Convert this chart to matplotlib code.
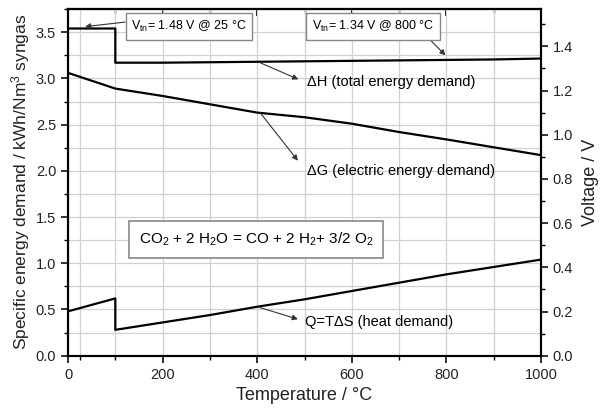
import numpy as np
import matplotlib
matplotlib.use("Agg")
import matplotlib.pyplot as plt
from matplotlib.ticker import MultipleLocator, FixedLocator

plt.rcParams["font.family"] = ["Liberation Sans", "DejaVu Sans"]
plt.rcParams["mathtext.fontset"] = "custom"
plt.rcParams["mathtext.rm"] = "Liberation Sans"
plt.rcParams["mathtext.it"] = "Liberation Sans:italic"

# temperature in degC (100 appears twice: step at water evaporation)
temp = [0, 100, 100, 200, 300, 400, 500, 600, 700, 800, 900, 1000]
dH = [3.54, 3.54, 3.17, 3.17, 3.175, 3.18, 3.185, 3.19, 3.195, 3.20, 3.205, 3.215]
dG = [3.06, 2.89, 2.89, 2.81, 2.72, 2.63, 2.58, 2.51, 2.42, 2.34, 2.255, 2.17]
Q = [0.48, 0.62, 0.28, 0.36, 0.44, 0.53, 0.61, 0.70, 0.79, 0.88, 0.96, 1.04]

# kWh/Nm3 syngas per volt (2 electrons per mole syngas)
kwh_per_volt = 2.391
e_max = 3.75

fig = plt.figure(figsize=(6.04, 4.13), dpi=100)
ax = fig.add_axes([0.1126, 0.1387, 0.7831, 0.8393])

ax.plot(temp, dH, color="black", lw=1.6)
ax.plot(temp, dG, color="black", lw=1.6)
ax.plot(temp, Q, color="black", lw=1.6)

ax.set_xlim(0, 1000)
ax.set_ylim(0, e_max)
ax.xaxis.set_major_locator(MultipleLocator(200))
ax.xaxis.set_minor_locator(FixedLocator([25, 100, 300, 500, 700, 900]))
ax.yaxis.set_major_locator(MultipleLocator(0.5))
ax.yaxis.set_minor_locator(MultipleLocator(0.25))
ax.yaxis.set_major_formatter(matplotlib.ticker.FormatStrFormatter("%.1f"))
ax.grid(True, which="both", color="#d0d0d0", lw=0.9)
ax.set_axisbelow(True)
ax.tick_params(which="major", direction="out", length=5, width=1.3, labelsize=10.5, colors="#222")
ax.tick_params(which="minor", direction="out", length=3, width=1.0)
for s in ax.spines.values():
    s.set_linewidth(1.5)

top = ax.secondary_xaxis("top")
top.xaxis.set_major_locator(MultipleLocator(200))
top.xaxis.set_minor_locator(MultipleLocator(100))
top.tick_params(which="major", direction="in", length=5, width=1.3, labeltop=False)
top.tick_params(which="minor", direction="in", length=3, width=1.0)
top.spines["top"].set_linewidth(1.5)

ax2 = ax.twinx()
ax2.set_ylim(0, e_max / kwh_per_volt)
ax2.yaxis.set_major_locator(MultipleLocator(0.2))
ax2.yaxis.set_minor_locator(MultipleLocator(0.1))
ax2.yaxis.set_major_formatter(matplotlib.ticker.FormatStrFormatter("%.1f"))
ax2.tick_params(which="major", direction="out", length=5, width=1.3, labelsize=10.5, colors="#222")
ax2.tick_params(which="minor", direction="out", length=3, width=1.0)
for s in ax2.spines.values():
    s.set_linewidth(1.5)

ax.set_xlabel("Temperature / °C", fontsize=13, color="#222")
ax.set_ylabel(r"Specific energy demand / kWh/Nm$^3$ syngas", fontsize=12.5, color="#222", labelpad=3)
ax2.set_ylabel("Voltage / V", fontsize=13, color="#222", labelpad=6)

arrow = dict(arrowstyle="-|>", color="#333", lw=0.8, mutation_scale=8, shrinkA=0, shrinkB=0)
box = dict(boxstyle="square,pad=0.45", fc="white", ec="#888", lw=1.0)

ax.annotate(r"$\mathregular{V_{tn}}$= 1.48 V @ 25 °C", xy=(36, 3.56), xytext=(256, 3.56),
            fontsize=9, ha="center", va="center", bbox=box,
            arrowprops=dict(arrow, relpos=(0, 0.85)))
ax.annotate(r"$\mathregular{V_{tn}}$= 1.34 V @ 800 °C", xy=(798, 3.25), xytext=(645, 3.56),
            fontsize=9, ha="center", va="center", bbox=box,
            arrowprops=dict(arrow, relpos=(0.92, 0)))
ax.annotate("ΔH (total energy demand)", xy=(487, 2.99), xytext=(506, 2.96),
            fontsize=10.5, ha="left", va="center")
ax.annotate("", xy=(487, 2.99), xytext=(406, 3.17), arrowprops=arrow)
ax.annotate("ΔG (electric energy demand)", xy=(486, 2.11), xytext=(505, 2.0),
            fontsize=10.5, ha="left", va="center")
ax.annotate("", xy=(486, 2.11), xytext=(406, 2.63), arrowprops=arrow)
ax.annotate("Q=TΔS (heat demand)", xy=(486, 0.395), xytext=(501, 0.366),
            fontsize=10.5, ha="left", va="center")
ax.annotate("", xy=(486, 0.395), xytext=(400, 0.53), arrowprops=arrow)

ax.text(397, 1.26, r"CO$_2$ + 2 H$_2$O = CO + 2 H$_2$+ 3/2 O$_2$", fontsize=11,
        ha="center", va="center", bbox=dict(boxstyle="square,pad=0.65", fc="white", ec="#888", lw=1.2))

fig.savefig("out.png", dpi=100)
